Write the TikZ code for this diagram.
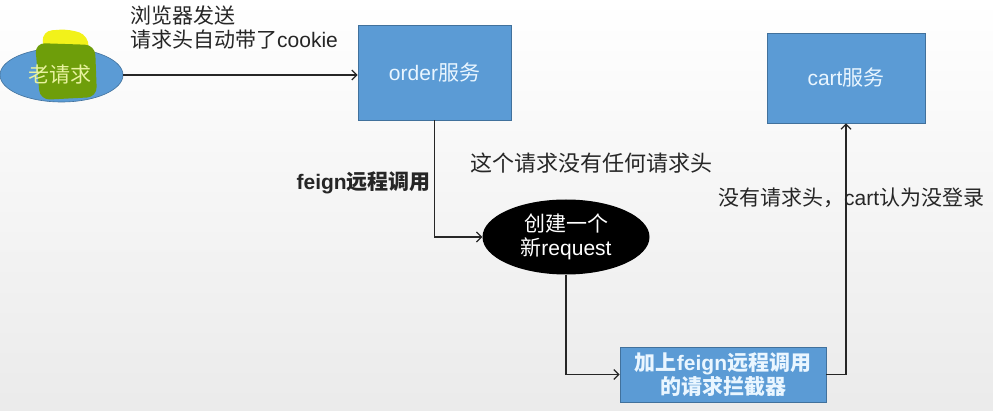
\documentclass[tikz,border=0pt]{standalone}
\usepackage{fontspec}
\setmainfont{Noto Sans CJK SC}
\newfontfamily\lat{Liberation Sans}
\usetikzlibrary{arrows.meta,shapes.geometric}
\definecolor{boxblue}{HTML}{5B9BD5}
\definecolor{boxedge}{HTML}{41719C}
\definecolor{boxtext}{HTML}{EAF6FF}
\definecolor{hlyellow}{HTML}{F2F21A}
\definecolor{hlgreen}{HTML}{6E9E0A}
\definecolor{oldtext}{HTML}{E8F2A0}
\begin{document}
\begin{tikzpicture}[x=1pt,y=-1pt,
  font=\fontsize{21}{24}\selectfont,
  svc/.style={draw=boxedge,fill=boxblue,line width=0.8pt,text=boxtext,inner sep=0pt},
  conn/.style={line width=1.2pt,draw=black!85},
  arr/.style={conn,-{Straight Barb[length=5pt,width=10pt,line width=1.2pt]}},
  lbl/.style={inner sep=0pt,text=black!85,align=left}]
\fill[top color=white,bottom color=black!8] (0,0) rectangle (993,411);
\useasboundingbox (0,0) rectangle (993,411);

% old request
\node[ellipse,fill=boxblue,draw=boxedge,line width=0.6pt,minimum width=123pt,minimum height=54pt,inner sep=0pt] (old) at (61.5,75) {};
\fill[hlyellow,rounded corners=10pt] (42,31) -- (70,29) -- (89,36) -- (88,56) -- (44,58) -- cycle;
\fill[hlgreen,rounded corners=10pt] (35,43) -- (95,45) -- (97,97) -- (40,100) -- cycle;
\node[inner sep=0pt,text=oldtext] (oldtxt) at (60,75) {老请求};

% services
\node[svc,minimum width=153pt,minimum height=95pt] (order) at (434.5,72.5) {{\lat order}服务};
\node[svc,minimum width=158pt,minimum height=90pt] (cart) at (846,78) {{\lat cart}服务};

% new request
\node[ellipse,fill=black,minimum width=167pt,minimum height=75pt,inner sep=0pt,text=white,align=center] (req) at (566,237) {创建一个\\新{\lat request}};

% interceptor
\node[svc,minimum width=206pt,minimum height=55pt,align=center,font=\fontsize{21}{24}\selectfont\bfseries] (inter) at (723,374.5) {加上{\lat feign}远程调用\\的请求拦截器};

% connectors
\draw[arr] (old.east) -- (old.east -| order.west);
\draw[arr] (order.south) |- (req.west);
\draw[arr] (req.south) |- (inter.west);
\draw[arr] (inter.east) -| (cart.south);

% labels
\node[lbl,anchor=north west] (l1) at (130,6) {浏览器发送\\请求头自动带了{\lat cookie}};
\node[lbl,anchor=east,font=\fontsize{21}{24}\selectfont\bfseries] (l2) at (431,183) {{\lat feign}远程调用};
\node[lbl,anchor=west,font=\fontsize{22}{24}\selectfont] (l3) at (470,163) {这个请求没有任何请求头};
\node[lbl,anchor=west] (l4) at (718,198) {没有请求头，{\lat cart}认为没登录};
\end{tikzpicture}
\end{document}
